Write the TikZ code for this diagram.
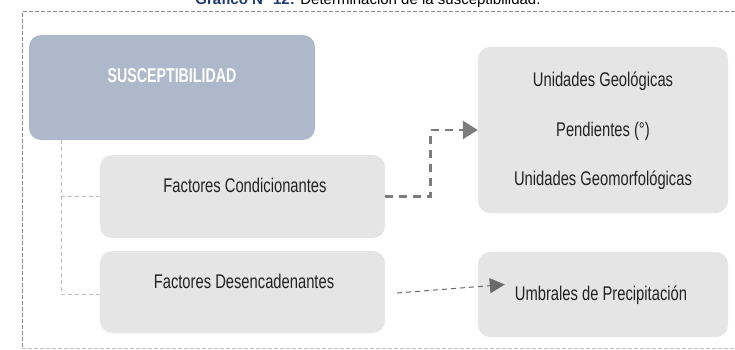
\documentclass[tikz,border=0pt]{standalone}
\usepackage{fontspec}
\setmainfont{Liberation Sans}
\newfontfamily\narrowf[FakeStretch=0.745]{Liberation Sans}
\newfontfamily\narrowbf[FakeStretch=0.71]{Liberation Sans}
\usetikzlibrary{arrows.meta,calc}
\definecolor{susblue}{HTML}{ADB8CA}
\definecolor{boxgray}{HTML}{E5E5E5}
\definecolor{txtgray}{HTML}{222222}
\definecolor{arrgray}{HTML}{7C7C7C}
\definecolor{treegray}{HTML}{BDBDBD}
\definecolor{framegray}{HTML}{8A8A8A}
\definecolor{framelight}{HTML}{C4C4C4}
\definecolor{navy}{HTML}{1F3A6E}
\begin{document}
\begin{tikzpicture}[x=1pt,y=-1pt,
  susbox/.style={rounded corners=12pt, fill=susblue, draw=none, minimum width=286pt, minimum height=105pt, inner sep=0pt},
  graybox/.style={rounded corners=12pt, fill=boxgray, draw=none, inner sep=0pt},
  lbl/.style={anchor=base, text=txtgray, font=\narrowf\fontsize{19.8}{23}\selectfont, inner sep=0pt},
  suslbl/.style={anchor=base, text=white, font=\narrowbf\bfseries\fontsize{20}{24}\selectfont, inner sep=0pt},
  treeline/.style={draw=treegray, line width=1pt, dash pattern=on 4pt off 3pt},
  thickarrow/.style={draw=arrgray, line width=2.6pt, dash pattern=on 8pt off 6pt, -{Triangle[length=15pt,width=18pt,fill=arrgray]}},
  thinarrow/.style={draw=arrgray!85!black, line width=1pt, dash pattern=on 5pt off 4pt, -{Triangle[length=15pt,width=15pt]}},
  framedash/.style={draw=framegray, line width=1pt, dash pattern=on 4pt off 2pt},
  framedashlight/.style={draw=framelight, line width=1pt, dash pattern=on 4pt off 2pt}
]
\useasboundingbox (0,0) rectangle (735,350);
\begin{scope}
  \clip (0,0) rectangle (735,350);
  \node[anchor=base, inner sep=0pt, font=\fontsize{15}{17}\selectfont] (title) at (368,4.5)
    {\textcolor{navy}{\bfseries Gráfico N° 12:} Determinación de la susceptibilidad.};
\end{scope}
% frame
\draw[framedash] (735,12) -- (22,12) -- (22,348);
\draw[framedashlight] (22,348) -- (735,348);
% boxes
\node[susbox] (sus) at (172,87.5) {};
\node[suslbl] (sust) at (172,83) {SUSCEPTIBILIDAD};
\node[graybox, minimum width=285pt, minimum height=83pt] (fc) at (242.5,196.5) {};
\node[lbl] (fct) at (245,192) {Factores Condicionantes};
\node[graybox, minimum width=285pt, minimum height=82pt] (fd) at (242.5,292) {};
\node[lbl] (fdt) at (244,288) {Factores Desencadenantes};
\node[graybox, minimum width=250pt, minimum height=166pt] (rt) at (603,130) {};
\node[lbl] (rt1) at (603,87) {Unidades Geológicas};
\node[lbl] (rt2) at (603,136) {Pendientes (°)};
\node[lbl] (rt3) at (603,185) {Unidades Geomorfológicas};
\node[graybox, minimum width=250pt, minimum height=85pt] (ub) at (603,294.5) {};
\node[lbl] (ubt) at (601,300) {Umbrales de Precipitación};
% tree connectors
\coordinate (tr) at (61,140);
\draw[treeline] (tr) |- (fc.west);
\draw[treeline] (tr) |- ($(fd.west)+(0,2)$);
% arrows
\draw[thickarrow] (fc.east) -- ++(45,0) |- (rt.west);
\draw[thinarrow] ($(fd.east)+(12,1)$) -- ($(ub.west)+(27,-10)$);
\end{tikzpicture}
\end{document}
